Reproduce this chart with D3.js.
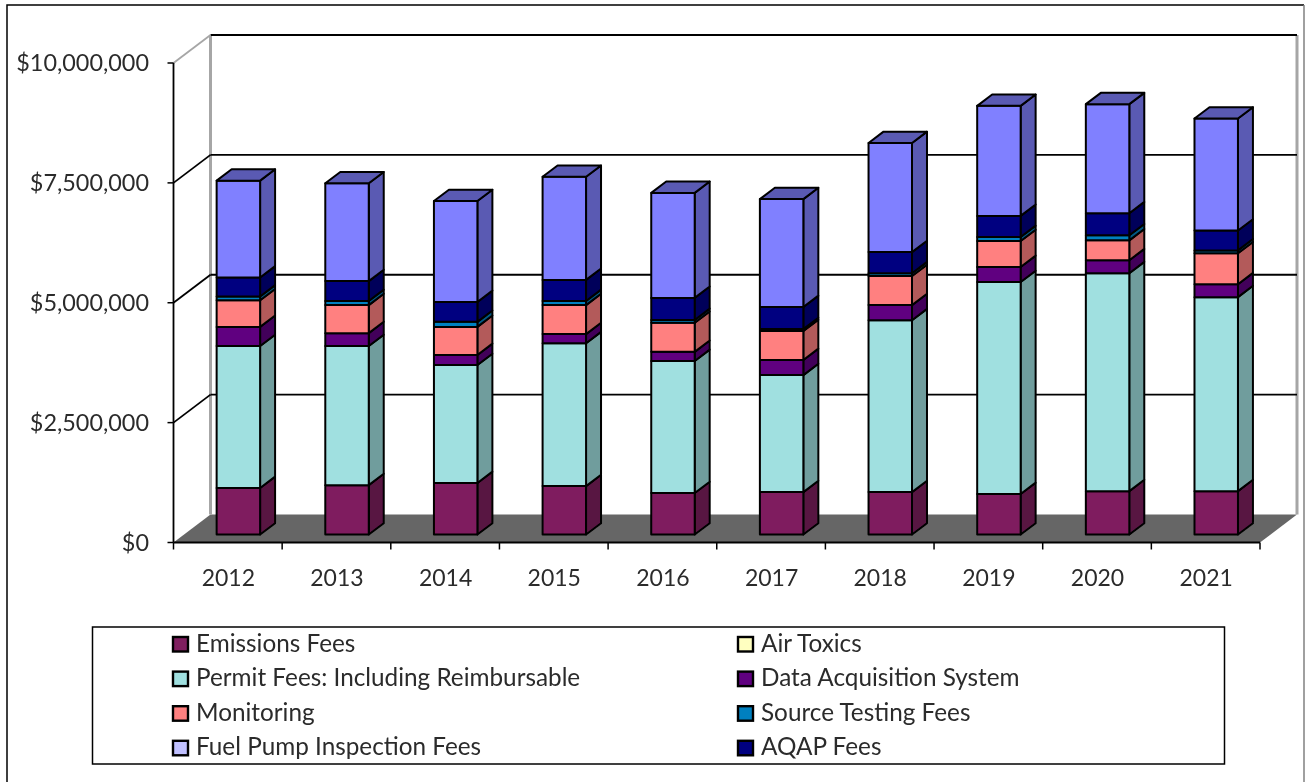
<!DOCTYPE html>
<html>
<head>
<meta charset="utf-8">
<script src="https://cdn.jsdelivr.net/npm/d3@7"></script>
<style>
  html, body { margin: 0; background: #fff; }
  svg { display: block; }
  text { font-family: Lato, "Open Sans", sans-serif; fill: #2b2b2b; filter: blur(0.3px); }
</style>
</head>
<body>
<div id="chart"></div>
<script>
const years = ["2012", "2013", "2014", "2015", "2016", "2017", "2018", "2019", "2020", "2021"];

// Series values in dollars, bottom of the stack first.
const emissionsFees = [970000, 1030000, 1075000, 1010000, 865000, 885000, 885000, 845000, 905000, 905000];
const airToxics = [0, 0, 0, 0, 0, 0, 0, 0, 0, 0];
const permitFees = [2960000, 2900000, 2460000, 2980000, 2755000, 2440000, 3585000, 4420000, 4545000, 4045000];
const dataAcquisition = [400000, 270000, 210000, 190000, 190000, 315000, 315000, 315000, 270000, 270000];
const monitoring = [555000, 585000, 585000, 605000, 605000, 605000, 605000, 540000, 415000, 645000];
const sourceTesting = [80000, 85000, 105000, 85000, 60000, 40000, 60000, 85000, 105000, 60000];
const fuelPump = [0, 0, 0, 0, 0, 0, 0, 0, 0, 0];
const aqapFees = [395000, 415000, 415000, 440000, 460000, 460000, 440000, 440000, 460000, 415000];
// Top band has no entry in the legend of the picture.
const topBand = [2020000, 2040000, 2105000, 2150000, 2190000, 2250000, 2275000, 2295000, 2275000, 2335000];

const seriesValues = [emissionsFees, airToxics, permitFees, dataAcquisition, monitoring, sourceTesting, fuelPump, aqapFees, topBand];
const seriesColors = ["#7f1f5f", "#ffffc0", "#a0e0e0", "#600080", "#ff8080", "#0080c0", "#c0c0ff", "#000080", "#8080ff"];

const yTicks = [0, 2500000, 5000000, 7500000, 10000000];

const legendNames = [
  "Emissions Fees", "Air Toxics",
  "Permit Fees: Including Reimbursable", "Data Acquisition System",
  "Monitoring", "Source Testing Fees",
  "Fuel Pump Inspection Fees", "AQAP Fees"
];
const legendColors = ["#7f1f5f", "#ffffc0", "#a0e0e0", "#600080", "#ff8080", "#0080c0", "#c0c0ff", "#000080"];

const width = 1305, height = 782;

const svg = d3.select("#chart").append("svg")
  .attr("width", width)
  .attr("height", height)
  .attr("viewBox", `0 0 ${width} ${height}`);

const defs = svg.append("defs");
defs.append("filter").attr("id", "soft")
  .append("feGaussianBlur").attr("stdDeviation", 0.45);

const xScale = d3.scaleBand().domain(years).range([173.5, 1260]).paddingInner(0.6).paddingOuter(0.3);
const yScale = d3.scaleLinear().domain([0, 10000000]).range([542.5, 63]);

// Oblique projection, z = 0 is the front of the floor and z = 1 the back wall
const depthX = 37, depthY = -28;
const px = (x, z) => x + z * depthX;
const py = (v, z) => yScale(v) + z * depthY;
const pts = (list) => list.map((d) => d.join(",")).join(" ");

const g = svg.append("g").attr("filter", "url(#soft)");

// image frame: black on the left and top, grey on the right
g.append("path")
  .attr("d", `M7,${height} V5 H${width - 1}`)
  .attr("fill", "none")
  .attr("stroke", "#000")
  .attr("stroke-width", 1.5);
g.append("line")
  .attr("x1", width - 1).attr("x2", width - 1)
  .attr("y1", 5).attr("y2", height)
  .attr("stroke", "#808080")
  .attr("stroke-width", 1.5);

const left = xScale.range()[0], right = xScale.range()[1];

// floor
g.append("polygon")
  .attr("points", pts([[left, py(0, 0)], [right, py(0, 0)], [px(right, 1), py(0, 1)], [px(left, 1), py(0, 1)]]))
  .attr("fill", "#666666");

// walls
g.append("line")
  .attr("x1", px(left, 1)).attr("x2", px(left, 1))
  .attr("y1", py(10000000, 1)).attr("y2", py(0, 1))
  .attr("stroke", "#a6a6a6").attr("stroke-width", 3);
g.append("line")
  .attr("x1", px(right, 1)).attr("x2", px(right, 1))
  .attr("y1", py(10000000, 1)).attr("y2", py(0, 1))
  .attr("stroke", "#a6a6a6").attr("stroke-width", 3);

// gridlines on the back wall and their run down the left wall
const grid = g.append("g").selectAll("g").data(yTicks.slice(1)).enter().append("g");
grid.append("line")
  .attr("x1", px(left, 1)).attr("x2", px(right, 1))
  .attr("y1", (d) => py(d, 1)).attr("y2", (d) => py(d, 1))
  .attr("stroke", "#000").attr("stroke-width", 1.8);
grid.append("line")
  .attr("x1", left).attr("x2", px(left, 1))
  .attr("y1", (d) => py(d, 0)).attr("y2", (d) => py(d, 1))
  .attr("stroke", (d) => (d === 10000000 ? "#a6a6a6" : "#000"))
  .attr("stroke-width", 1.8);

// bars, front face at z0 and back face at z1
const z0 = 0.285, z1 = 0.69;
const stackKeys = d3.range(seriesValues.length);
const stackRows = years.map((y, i) => {
  const row = { year: y };
  stackKeys.forEach((k) => { row[k] = seriesValues[k][i]; });
  return row;
});
const stacked = d3.stack().keys(stackKeys)(stackRows);

years.forEach((year, i) => {
  const bar = g.append("g").attr("class", "bar");
  const x0 = xScale(year), x1 = x0 + xScale.bandwidth();
  stacked.forEach((layer, k) => {
    const [v0, v1] = layer[i];
    if (v1 === v0) return;
    const color = seriesColors[k];
    const dark = d3.rgb(color).darker(1).formatHex();
    const faces = bar.append("g").attr("stroke", "#000").attr("stroke-width", 2).attr("stroke-linejoin", "round");
    faces.append("polygon")
      .attr("points", pts([[px(x1, z0), py(v0, z0)], [px(x1, z1), py(v0, z1)], [px(x1, z1), py(v1, z1)], [px(x1, z0), py(v1, z0)]]))
      .attr("fill", dark);
    faces.append("polygon")
      .attr("points", pts([[px(x0, z0), py(v0, z0)], [px(x1, z0), py(v0, z0)], [px(x1, z0), py(v1, z0)], [px(x0, z0), py(v1, z0)]]))
      .attr("fill", color);
    if (k === stacked.length - 1) {
      faces.append("polygon")
        .attr("points", pts([[px(x0, z0), py(v1, z0)], [px(x1, z0), py(v1, z0)], [px(x1, z1), py(v1, z1)], [px(x0, z1), py(v1, z1)]]))
        .attr("fill", dark);
    }
  });
});

// front axes
g.append("line")
  .attr("x1", left).attr("x2", left)
  .attr("y1", yScale(10000000)).attr("y2", yScale(0))
  .attr("stroke", "#000").attr("stroke-width", 1.8);
g.append("line")
  .attr("x1", left).attr("x2", right)
  .attr("y1", yScale(0)).attr("y2", yScale(0))
  .attr("stroke", "#000").attr("stroke-width", 1.8);
g.selectAll(".ytick").data(yTicks).enter().append("line")
  .attr("class", "ytick")
  .attr("x1", left - 6).attr("x2", left)
  .attr("y1", (d) => yScale(d)).attr("y2", (d) => yScale(d))
  .attr("stroke", "#000").attr("stroke-width", 1.5);
const step = xScale.step();
g.selectAll(".xtick").data(d3.range(years.length + 1)).enter().append("line")
  .attr("class", "xtick")
  .attr("x1", (d) => left + d * step).attr("x2", (d) => left + d * step)
  .attr("y1", yScale(0)).attr("y2", yScale(0) + 7)
  .attr("stroke", "#000").attr("stroke-width", 1.5);

// tick labels
const dollars = d3.format("$,");
svg.selectAll(".ylabel").data(yTicks).enter().append("text")
  .attr("class", "ylabel")
  .attr("x", 149)
  .attr("y", (d) => yScale(d) + 8)
  .attr("text-anchor", "end")
  .style("font-size", "23.4px")
  .text((d) => dollars(d));
svg.selectAll(".xlabel").data(years).enter().append("text")
  .attr("class", "xlabel")
  .attr("x", (d) => xScale(d) + xScale.bandwidth() / 2 + 0.5)
  .attr("y", 585.5)
  .attr("text-anchor", "middle")
  .style("font-size", "23px")
  .text((d) => d);

// legend
g.append("rect")
  .attr("x", 92.5).attr("y", 627)
  .attr("width", 1132).attr("height", 137)
  .attr("fill", "#fff").attr("stroke", "#000").attr("stroke-width", 1.5);
const legendItem = svg.selectAll(".legend").data(legendNames).enter().append("g")
  .attr("class", "legend")
  .attr("transform", (d, i) => `translate(${i % 2 ? 738 : 173},${643.5 + Math.floor(i / 2) * 34.6})`);
legendItem.append("rect")
  .attr("x", 0).attr("y", -6.5).attr("width", 15).attr("height", 14.5)
  .attr("fill", (d, i) => legendColors[i])
  .attr("stroke", "#000").attr("stroke-width", 2.4);
legendItem.append("text")
  .attr("x", 23)
  .attr("y", 8)
  .style("font-size", "24.3px")
  .text((d) => d);
</script>
</body>
</html>
